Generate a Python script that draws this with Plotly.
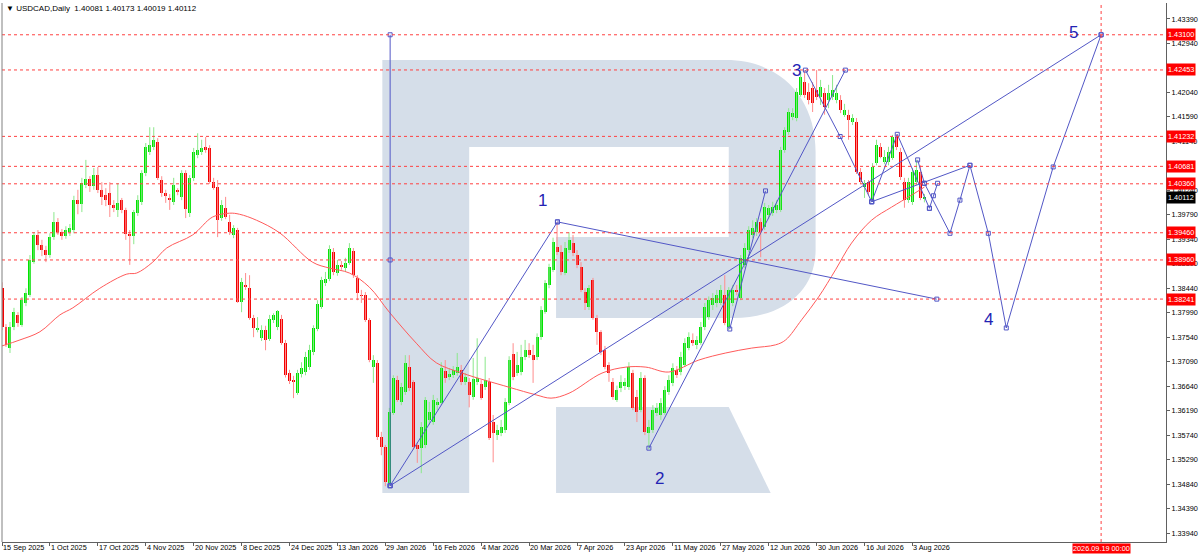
import plotly.graph_objects as go

# USDCAD daily candles, bar 0 = 15 Sep 2025 (one bar per trading day)
opens = [1.3844, 1.3773, 1.3734, 1.3773, 1.3795, 1.3776, 1.3817, 1.3831, 1.3892, 1.3942,
         1.3923, 1.3914, 1.3905, 1.3938, 1.3966, 1.3947, 1.3940, 1.3947, 1.3951, 1.4006,
         1.3999, 1.4034, 1.4045, 1.4032, 1.4052, 1.4025, 1.4015, 1.4019, 1.3997, 1.3988,
         1.4006, 1.3988, 1.3944, 1.3940, 1.3982, 1.4003, 1.4056, 1.4094, 1.4104, 1.4113,
         1.4043, 1.4019, 1.4010, 1.4003, 1.4025, 1.4012, 1.4056, 1.3982, 1.4047, 1.4089,
         1.4094, 1.4104, 1.4102, 1.4039, 1.4030, 1.3973, 1.3992, 1.3966, 1.3942, 1.3951,
         1.3819, 1.3850, 1.3844, 1.3789, 1.3767, 1.3752, 1.3767, 1.3751, 1.3786, 1.3773,
         1.3788, 1.3743, 1.3688, 1.3675, 1.3651, 1.3686, 1.3690, 1.3699, 1.3727, 1.3769,
         1.3809, 1.3854, 1.3861, 1.3910, 1.3872, 1.3887, 1.3881, 1.3890, 1.3912, 1.3863,
         1.3831, 1.3831, 1.3786, 1.3699, 1.3707, 1.3570, 1.3552, 1.3486, 1.3615, 1.3675,
         1.3635, 1.3653, 1.3699, 1.3672, 1.3556, 1.3550, 1.3556, 1.3602, 1.3598, 1.3629,
         1.3633, 1.3692, 1.3680, 1.3684, 1.3688, 1.3694, 1.3672, 1.3672, 1.3644, 1.3672,
         1.3668, 1.3662, 1.3672, 1.3598, 1.3574, 1.3578, 1.3583, 1.3633, 1.3723, 1.3688,
         1.3690, 1.3718, 1.3730, 1.3721, 1.3718, 1.3754, 1.3800, 1.3850, 1.3878, 1.3920,
         1.3910, 1.3872, 1.3914, 1.3927, 1.3905, 1.3883, 1.3837, 1.3809, 1.3859, 1.3789,
         1.3763, 1.3730, 1.3703, 1.3672, 1.3639, 1.3660, 1.3664, 1.3662, 1.3688, 1.3644,
         1.3621, 1.3679, 1.3578, 1.3583, 1.3615, 1.3611, 1.3615, 1.3653, 1.3670, 1.3694,
         1.3690, 1.3703, 1.3734, 1.3749, 1.3740, 1.3743, 1.3773, 1.3791, 1.3813, 1.3817,
         1.3817, 1.3831, 1.3773, 1.3817, 1.3841, 1.3826, 1.3887, 1.3914, 1.3942, 1.3947,
         1.3966, 1.3956, 1.3979, 1.3982, 1.3988, 1.3988, 1.4098, 1.4131, 1.4159, 1.4157,
         1.4199, 1.4223, 1.4205, 1.4212, 1.4208, 1.4196, 1.4203, 1.4190, 1.4196, 1.4190,
         1.4190, 1.4163, 1.4163, 1.4150, 1.4150, 1.4058, 1.4030, 1.4039, 1.4006, 1.4074,
         1.4104, 1.4076, 1.4076, 1.4083, 1.4122, 1.4094, 1.4039, 1.4006, 1.4003, 1.4039,
         1.4058, 1.40081]
highs = [1.3855, 1.3778, 1.3782, 1.3808, 1.3800, 1.3828, 1.3844, 1.3905, 1.3947, 1.3951,
         1.3933, 1.3922, 1.3945, 1.3984, 1.3973, 1.3953, 1.3958, 1.3962, 1.4014, 1.4025,
         1.4047, 1.4080, 1.4050, 1.4065, 1.4067, 1.4039, 1.4028, 1.4039, 1.4006, 1.4037,
         1.4010, 1.3992, 1.3951, 1.3988, 1.4015, 1.4061, 1.4111, 1.4140, 1.4140, 1.4120,
         1.4050, 1.4025, 1.4017, 1.4047, 1.4028, 1.4061, 1.4061, 1.4052, 1.4102, 1.4129,
         1.4117, 1.4122, 1.4107, 1.4047, 1.4043, 1.4006, 1.4012, 1.3979, 1.3960, 1.3955,
         1.3863, 1.3872, 1.3868, 1.3795, 1.3791, 1.3776, 1.3775, 1.3795, 1.3798, 1.3804,
         1.3795, 1.3749, 1.3694, 1.3683, 1.3694, 1.3708, 1.3727, 1.3740, 1.3776, 1.3822,
         1.3865, 1.3874, 1.3923, 1.3918, 1.3896, 1.3894, 1.3900, 1.3927, 1.3918, 1.3868,
         1.3841, 1.3837, 1.3789, 1.3721, 1.3712, 1.3580, 1.3556, 1.3624, 1.3684, 1.3683,
         1.3670, 1.3721, 1.3721, 1.3675, 1.3561, 1.3598, 1.3644, 1.3635, 1.3648, 1.3642,
         1.3708, 1.3712, 1.3697, 1.3701, 1.3725, 1.3703, 1.3688, 1.3679, 1.3716, 1.3752,
         1.3675, 1.3718, 1.3679, 1.3611, 1.3593, 1.3602, 1.3642, 1.3719, 1.3743, 1.3727,
         1.3740, 1.3749, 1.3743, 1.3740, 1.3761, 1.3811, 1.3859, 1.3889, 1.3937, 1.3966,
         1.3923, 1.3929, 1.3947, 1.3942, 1.3914, 1.3892, 1.3844, 1.3850, 1.3863, 1.3795,
         1.3767, 1.3738, 1.3708, 1.3679, 1.3665, 1.3684, 1.3679, 1.3708, 1.3694, 1.3657,
         1.3690, 1.3684, 1.3602, 1.3629, 1.3633, 1.3642, 1.3664, 1.3684, 1.3706, 1.3701,
         1.3727, 1.3752, 1.3763, 1.3761, 1.3756, 1.3782, 1.3817, 1.3829, 1.3835, 1.3841,
         1.3850, 1.3868, 1.3846, 1.3850, 1.3850, 1.3905, 1.3927, 1.3958, 1.3969, 1.3973,
         1.3973, 1.4001, 1.3997, 1.4003, 1.4006, 1.4104, 1.4140, 1.4175, 1.4175, 1.4212,
         1.4242, 1.4245, 1.4221, 1.4223, 1.4245, 1.4227, 1.4212, 1.4218, 1.4236, 1.4218,
         1.4199, 1.4183, 1.4172, 1.4164, 1.4157, 1.4065, 1.4043, 1.4043, 1.4074, 1.4117,
         1.4111, 1.4098, 1.4104, 1.4126, 1.4127, 1.4102, 1.4047, 1.4047, 1.4065, 1.4080,
         1.4070, 1.40173]
lows = [1.3767, 1.3736, 1.3725, 1.3767, 1.3773, 1.3773, 1.3811, 1.3828, 1.3889, 1.3914,
        1.3903, 1.3892, 1.3900, 1.3933, 1.3942, 1.3933, 1.3935, 1.3940, 1.3945, 1.3980,
        1.3984, 1.4028, 1.4021, 1.4025, 1.4019, 1.3997, 1.3995, 1.3975, 1.3984, 1.3975,
        1.3982, 1.3933, 1.3887, 1.3925, 1.3977, 1.3997, 1.4050, 1.4089, 1.4098, 1.4043,
        1.4012, 1.4001, 1.3988, 1.3997, 1.4015, 1.4006, 1.3973, 1.3975, 1.4041, 1.4083,
        1.4089, 1.4093, 1.4036, 1.4025, 1.3938, 1.3968, 1.3971, 1.3942, 1.3936, 1.3817,
        1.3800, 1.3841, 1.3786, 1.3754, 1.3763, 1.3747, 1.3730, 1.3747, 1.3780, 1.3767,
        1.3740, 1.3680, 1.3668, 1.3642, 1.3648, 1.3680, 1.3684, 1.3694, 1.3721, 1.3765,
        1.3806, 1.3848, 1.3857, 1.3868, 1.3867, 1.3878, 1.3874, 1.3887, 1.3863, 1.3822,
        1.3817, 1.3782, 1.3708, 1.3670, 1.3565, 1.3537, 1.3480, 1.3480, 1.3611, 1.3635,
        1.3629, 1.3648, 1.3655, 1.3547, 1.3523, 1.3504, 1.3550, 1.3593, 1.3593, 1.3620,
        1.3629, 1.3670, 1.3675, 1.3679, 1.3683, 1.3666, 1.3666, 1.3625, 1.3639, 1.3666,
        1.3639, 1.3657, 1.3565, 1.3524, 1.3565, 1.3572, 1.3578, 1.3629, 1.3675, 1.3683,
        1.3684, 1.3712, 1.3716, 1.3670, 1.3712, 1.3749, 1.3797, 1.3844, 1.3874, 1.3905,
        1.3868, 1.3868, 1.3909, 1.3903, 1.3881, 1.3837, 1.3804, 1.3804, 1.3786, 1.3740,
        1.3721, 1.3695, 1.3672, 1.3639, 1.3635, 1.3653, 1.3657, 1.3657, 1.3620, 1.3598,
        1.3616, 1.3574, 1.3548, 1.3578, 1.3609, 1.3602, 1.3611, 1.3648, 1.3664, 1.3679,
        1.3684, 1.3699, 1.3730, 1.3738, 1.3732, 1.3740, 1.3767, 1.3786, 1.3804, 1.3809,
        1.3813, 1.3776, 1.3767, 1.3811, 1.3831, 1.3822, 1.3881, 1.3910, 1.3936, 1.3940,
        1.3901, 1.3951, 1.3971, 1.3977, 1.3982, 1.3984, 1.4093, 1.4126, 1.4153, 1.4151,
        1.4196, 1.4194, 1.4182, 1.4168, 1.4190, 1.4181, 1.4163, 1.4175, 1.4190, 1.4184,
        1.4166, 1.4159, 1.4117, 1.4144, 1.4054, 1.4036, 1.4010, 1.4015, 1.4003, 1.4070,
        1.4083, 1.4072, 1.4070, 1.4080, 1.4098, 1.4043, 1.3992, 1.4001, 1.3997, 1.4034,
        1.4006, 1.40019]
closes = [1.3773, 1.3740, 1.3773, 1.3800, 1.3780, 1.3822, 1.3835, 1.3896, 1.3942, 1.3923,
          1.3914, 1.3905, 1.3938, 1.3966, 1.3947, 1.3940, 1.3951, 1.3955, 1.4006, 1.3999,
          1.4037, 1.4045, 1.4032, 1.4052, 1.4025, 1.4012, 1.4006, 1.3997, 1.3992, 1.4001,
          1.3988, 1.3944, 1.3940, 1.3984, 1.4006, 1.4056, 1.4104, 1.4107, 1.4117, 1.4047,
          1.4019, 1.4014, 1.4006, 1.4034, 1.4021, 1.4056, 1.3990, 1.4047, 1.4094, 1.4098,
          1.4102, 1.4098, 1.4039, 1.4028, 1.3969, 1.3997, 1.3975, 1.3947, 1.3955, 1.3819,
          1.3855, 1.3846, 1.3789, 1.3771, 1.3771, 1.3767, 1.3749, 1.3788, 1.3795, 1.3802,
          1.3743, 1.3684, 1.3673, 1.3672, 1.3688, 1.3697, 1.3718, 1.3730, 1.3771, 1.3815,
          1.3859, 1.3861, 1.3916, 1.3874, 1.3887, 1.3883, 1.3890, 1.3918, 1.3868, 1.3835,
          1.3830, 1.3786, 1.3712, 1.3712, 1.3570, 1.3552, 1.3488, 1.3616, 1.3679, 1.3639,
          1.3662, 1.3707, 1.3660, 1.3552, 1.3548, 1.3589, 1.3639, 1.3616, 1.3639, 1.3635,
          1.3697, 1.3679, 1.3686, 1.3694, 1.3699, 1.3672, 1.3680, 1.3648, 1.3677, 1.3679,
          1.3642, 1.3675, 1.3569, 1.3578, 1.3583, 1.3589, 1.3635, 1.3712, 1.3680, 1.3703,
          1.3718, 1.3730, 1.3721, 1.3712, 1.3754, 1.3804, 1.3854, 1.3883, 1.3929, 1.3910,
          1.3874, 1.3918, 1.3933, 1.3909, 1.3887, 1.3841, 1.3817, 1.3844, 1.3789, 1.3763,
          1.3727, 1.3699, 1.3688, 1.3644, 1.3657, 1.3672, 1.3672, 1.3699, 1.3624, 1.3616,
          1.3679, 1.3580, 1.3589, 1.3620, 1.3624, 1.3633, 1.3657, 1.3675, 1.3697, 1.3684,
          1.3718, 1.3743, 1.3754, 1.3743, 1.3749, 1.3773, 1.3809, 1.3822, 1.3826, 1.3831,
          1.3841, 1.3780, 1.3841, 1.3841, 1.3837, 1.3900, 1.3918, 1.3951, 1.3955, 1.3966,
          1.3947, 1.3993, 1.3992, 1.3993, 1.3997, 1.4098, 1.4135, 1.4168, 1.4166, 1.4205,
          1.4233, 1.4199, 1.4190, 1.4184, 1.4196, 1.4214, 1.4177, 1.4203, 1.4208, 1.4203,
          1.4172, 1.4172, 1.4153, 1.4157, 1.4058, 1.4039, 1.4037, 1.4021, 1.4067, 1.4107,
          1.4085, 1.4085, 1.4094, 1.4122, 1.4104, 1.4048, 1.4006, 1.4039, 1.4058, 1.4061,
          1.4010, 1.40112]

# moving average, bar index -> value
ma_idx = [0, 4.5, 9.5, 14.5, 17.75, 24.5, 31.25, 33.75, 37.75, 41.25, 47.75, 52.75, 57,
          59.5, 63.75, 69.5, 77.75, 82, 87, 92, 97, 103.75, 108.75, 115.25, 127, 133.75,
          137.5, 142, 150.25, 156.25, 161.25, 167, 174.5, 181.25, 187.75, 193.75, 196.25,
          200.25, 204.5, 208.75, 212.75, 217.75, 222.75, 227.75, 231]
ma_val = [1.3738, 1.3749, 1.3764, 1.3795, 1.3808, 1.3844, 1.3870, 1.3872, 1.3892, 1.3918,
          1.3942, 1.3975, 1.3982, 1.3980, 1.3969, 1.3946, 1.3892, 1.3881, 1.3872, 1.3846,
          1.3800, 1.3743, 1.3707, 1.3688, 1.3662, 1.3648, 1.3642, 1.3651, 1.3688, 1.3699,
          1.3699, 1.3690, 1.3712, 1.3725, 1.3734, 1.3740, 1.3749, 1.3786, 1.3828, 1.3878,
          1.3927, 1.3969, 1.3993, 1.4015, 1.4030]

date_idx = [0, 12, 24, 36, 48, 60, 72, 84, 96, 108, 120, 132, 144, 156, 168, 180, 192, 204, 216, 228]
date_labels = ["15 Sep 2025", "1 Oct 2025", "17 Oct 2025", "4 Nov 2025", "20 Nov 2025",
               "8 Dec 2025", "24 Dec 2025", "13 Jan 2026", "29 Jan 2026", "16 Feb 2026",
               "4 Mar 2026", "20 Mar 2026", "7 Apr 2026", "23 Apr 2026", "11 May 2026",
               "27 May 2026", "12 Jun 2026", "30 Jun 2026", "16 Jul 2026", "3 Aug 2026"]

# price scale labels (1.40690 and 1.42490 sit fully under the level tags, so left out)
y_ticks = [1.33940, 1.34390, 1.34840, 1.35290, 1.35740, 1.36190, 1.36640, 1.37090, 1.37540,
           1.37990, 1.38440, 1.38890, 1.39340, 1.39790, 1.40240, 1.41140, 1.41590,
           1.42040, 1.42940, 1.43390]

levels = [1.43100, 1.42453, 1.41232, 1.40681, 1.40360, 1.39460, 1.38960, 1.38241]
last_price = 1.40112
target_idx = 275.25
target_label = "2026.09.19 00:00"

# hand-drawn analysis lines (bar index, price)
drawings = [
    ([97.2, 97.2, 97.2], [1.4310, 1.3896, 1.3481]),
    ([97.2, 275.25], [1.3481, 1.4310]),
    ([97.2, 139.1], [1.3481, 1.3966]),
    ([139.1, 234.1], [1.3966, 1.3824]),
    ([162, 211.2], [1.3550, 1.4245]),
    ([182.25, 191.2], [1.3769, 1.4023]),
    ([201.2, 209.9, 217.8], [1.4245, 1.4123, 1.4003]),
    ([217.8, 224.2, 232.25], [1.4003, 1.4127, 1.3991]),
    ([217.8, 242.4], [1.4003, 1.4070]),
    ([229.3, 231], [1.4080, 1.4037]),
    ([232.25, 233.25, 234.3], [1.3991, 1.4014, 1.4037]),
    ([231, 237.4, 239.9, 242.4, 247, 251.5, 263.25, 275.25],
     [1.4037, 1.3945, 1.4006, 1.4070, 1.3945, 1.3771, 1.4067, 1.4310]),
]
wave_text = ["1", "2", "3", "4", "5"]
wave_idx = [135.25, 164.75, 199, 247, 268.25]
wave_val = [1.4006, 1.3495, 1.4245, 1.3786, 1.4315]

FONT = "Liberation Sans"
W, H = 1200, 555
ML, MR, MT, MB = 2, 32, 3, 13


def pp(x, y):
    # screen pixel -> paper coords (used only for the watermark)
    return f"{(x - ML) / (W - ML - MR):.5f},{1 - (y - MT) / (H - MT - MB):.5f}"


def path(cmds):
    out = []
    for c in cmds:
        pts = [pp(c[k], c[k + 1]) for k in range(1, len(c), 2)]
        out.append(c[0] + " ".join(pts))
    return " ".join(out) + " Z"


fig = go.Figure()

# candle wicks
for up, col in [(True, "#8be88b"), (False, "#ff8c8c")]:
    xs, ys = [], []
    for i in range(len(opens)):
        if (closes[i] >= opens[i]) == up:
            xs += [i, i, None]
            ys += [lows[i], highs[i], None]
    fig.add_trace(go.Scatter(x=xs, y=ys, mode="lines", line=dict(color=col, width=1),
                             hoverinfo="skip", showlegend=False))

# candle bodies
for up, col in [(True, "#00e400"), (False, "#f20000")]:
    idx = [i for i in range(len(opens)) if (closes[i] >= opens[i]) == up]
    base = [min(opens[i], closes[i]) for i in idx]
    hgt = [max(abs(closes[i] - opens[i]), 0.00015) for i in idx]
    fig.add_trace(go.Bar(x=idx, y=hgt, base=base, width=0.75, marker=dict(color=col, line=dict(width=0)),
                         hoverinfo="skip", showlegend=False))

fig.add_trace(go.Scatter(x=ma_idx, y=ma_val, mode="lines", line=dict(color="#ff5a5a", width=1, shape="spline"),
                         hoverinfo="skip", showlegend=False))

for xs, ys in drawings:
    fig.add_trace(go.Scatter(x=xs, y=ys, mode="lines+markers",
                             line=dict(color="#5257c6", width=1),
                             marker=dict(symbol="square-open", size=4, color="#5257c6", line=dict(width=1)),
                             hoverinfo="skip", showlegend=False))

shapes = []
logo = "#d5dee9"
bowl = [("M", 383, 60), ("L", 727, 60), ("C", 782, 60, 817, 98, 817, 152), ("L", 817, 250),
        ("C", 817, 290, 785, 318, 735, 318), ("L", 557, 318), ("L", 557, 237), ("L", 730, 237),
        ("L", 730, 147), ("L", 470, 147), ("L", 470, 493), ("L", 383, 493)]
leg = [("M", 557, 407), ("L", 730, 407), ("L", 772, 493), ("L", 557, 493)]
for p in (bowl, leg):
    shapes.append(dict(type="path", xref="paper", yref="paper", path=path(p),
                       fillcolor=logo, line=dict(width=0), layer="below"))

for lv in levels:
    shapes.append(dict(type="line", xref="paper", yref="y", x0=0, x1=1, y0=lv, y1=lv,
                       line=dict(color="#ff4040", width=1, dash="dot")))
shapes.append(dict(type="line", xref="x", yref="paper", x0=target_idx, x1=target_idx, y0=0, y1=1,
                   line=dict(color="#ff4040", width=1, dash="dot")))
shapes.append(dict(type="line", xref="paper", yref="paper", x0=0, x1=0, y0=0, y1=1,
                   line=dict(color="#808080", width=1)))

AX = 7.3
ann = []
ann.append(dict(x=0, y=1, xref="paper", yref="paper", xanchor="left", yanchor="top", xshift=2, yshift=1,
                text="\u25bc USDCAD,Daily  1.40081 1.40173 1.40019 1.40112", showarrow=False,
                font=dict(family=FONT, size=8, color="#000000")))
for d, t in zip(date_idx, date_labels):
    ann.append(dict(x=d, y=0, xref="x", yref="paper", xanchor="left", yanchor="top", xshift=0, yshift=0,
                    text=t, showarrow=False, borderpad=0, font=dict(family=FONT, size=AX, color="#000000")))
ann.append(dict(x=target_idx, y=0, xref="x", yref="paper", xanchor="center", yanchor="top", yshift=-1,
                text=target_label, showarrow=False, bgcolor="#ff0000", borderpad=0,
                font=dict(family=FONT, size=AX, color="#ffffff")))
for lv in levels:
    ann.append(dict(x=1, y=lv, xref="paper", yref="y", xanchor="left", yanchor="middle", xshift=0,
                    text=f"{lv:.5f}", showarrow=False, bgcolor="#ff0000", borderpad=1,
                    font=dict(family=FONT, size=AX, color="#ffffff")))
ann.append(dict(x=1, y=last_price, xref="paper", yref="y", xanchor="left", yanchor="middle", xshift=0,
                text=f"{last_price:.5f}", showarrow=False, bgcolor="#000000", borderpad=1,
                font=dict(family=FONT, size=AX, color="#ffffff")))
for t, xi, yv in zip(wave_text, wave_idx, wave_val):
    ann.append(dict(x=xi, y=yv, xref="x", yref="y", text=t, showarrow=False,
                    font=dict(family=FONT, size=17, color="#2323b4")))

fig.update_layout(
    width=W, height=H, margin=dict(l=ML, r=MR, t=MT, b=MB),
    paper_bgcolor="white", plot_bgcolor="white", barmode="overlay", bargap=0,
    shapes=shapes, annotations=ann, showlegend=False,
    xaxis=dict(range=[0, 291.5], showgrid=False, zeroline=False, showticklabels=False,
               tickvals=date_idx, ticks="outside", ticklen=3, tickcolor="#606060",
               showline=True, linecolor="#606060", linewidth=1),
    yaxis=dict(range=[1.33775, 1.43684], side="right", showgrid=False, zeroline=False,
               tickvals=y_ticks, ticktext=[f"{v:.5f}" for v in y_ticks], ticks="outside",
               ticklen=3, tickcolor="#606060", showline=True, linecolor="#606060", linewidth=1,
               tickfont=dict(family=FONT, size=AX, color="#000000")),
)

# page body has a default 8px margin; drop it so the 1200x555 figure fills the window
fig.write_html("out.html", config={"displayModeBar": False},
               post_script="document.body.style.margin='0';document.body.style.overflow='hidden';")
